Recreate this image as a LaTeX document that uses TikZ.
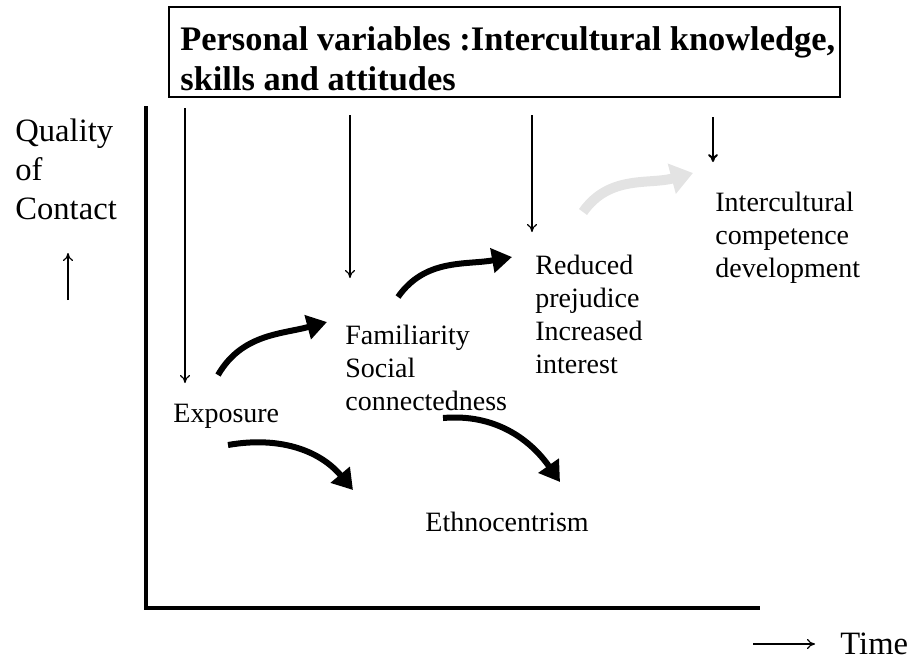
\documentclass[tikz,border=0pt]{standalone}
\usepackage{fontspec}
\setmainfont{Liberation Serif}
\usetikzlibrary{arrows.meta}

\begin{document}
\begin{tikzpicture}[x=0.5pt, y=0.5pt,
  stage/.style={anchor=north west, inner sep=0pt, align=left, font=\fontsize{14}{16.5}\selectfont},
  axislabel/.style={anchor=north west, inner sep=0pt, align=left, font=\fontsize{16.3}{19.7}\selectfont},
  influence/.style={line width=0.6pt, -{To[length=4pt,width=5pt]}},
  flow/.style={line width=3pt, -{Triangle[length=10pt,width=12pt]}},
  axis/.style={line width=2pt}]
  \useasboundingbox (0,0) rectangle (920,-666);

  % title box
  \draw[line width=0.8pt] (169,-7) rectangle (840,-97);
  \node[anchor=north west, inner sep=0pt, align=left, font=\bfseries\fontsize{17.2}{20}\selectfont] (personal) at (180,-26) {Personal variables :Intercultural knowledge,\\skills and attitudes};

  % axes
  \coordinate (ytop) at (146,-106);
  \coordinate (origin) at (146,-608);
  \coordinate (xend) at (760,-608);
  \draw[axis] (ytop) -- (origin) -- (xend);

  \node[axislabel] (quality) at (15,-118) {Quality\\of\\Contact};
  \coordinate (up0) at (68,-300);
  \coordinate (up1) at (68,-253);
  \draw[influence] (up0) -- (up1);

  \node[axislabel] (time) at (840,-632) {Time};
  \coordinate (t0) at (753,-644);
  \coordinate (t1) at (815,-644);
  \draw[influence] (t0) -- (t1);

  % stages
  \node[stage] (exposure) at (173,-404) {Exposure};
  \node[stage] (familiarity) at (345,-325) {Familiarity\\Social\\connectedness};
  \node[stage] (reduced) at (535,-255) {Reduced\\prejudice\\Increased\\interest};
  \node[stage] (competence) at (715,-192) {Intercultural\\competence\\development};
  \node[stage] (ethno) at (425,-512) {Ethnocentrism};

  % influence of personal variables
  \coordinate (p1) at (185,-108);
  \coordinate (p2) at (350,-115);
  \coordinate (p3) at (532,-115);
  \coordinate (p4) at (713,-117);
  \coordinate (q1) at (185,-383);
  \coordinate (q2) at (350,-278);
  \coordinate (q3) at (532,-232);
  \coordinate (q4) at (713,-162);
  \draw[influence] (p1) -- (q1);
  \draw[influence] (p2) -- (q2);
  \draw[influence] (p3) -- (q3);
  \draw[influence, line width=1pt] (p4) -- (q4);

  % development over time
  \coordinate (a1) at (218,-375);
  \coordinate (b1) at (327,-322);
  \coordinate (a2) at (228,-445);
  \coordinate (b2) at (353,-490);
  \coordinate (a3) at (398,-297);
  \coordinate (b3) at (512,-257);
  \coordinate (a4) at (443,-418);
  \coordinate (b4) at (560,-482);
  \coordinate (a5) at (583,-212);
  \coordinate (b5) at (693,-173);
  \draw[flow] (a1) to[out=60, in=195] (b1);
  \draw[flow] (a2) to[out=10, in=130] (b2);
  \draw[flow] (a3) to[out=55, in=190] (b3);
  \draw[flow] (a4) to[out=5, in=125] (b4);
  \draw[flow, gray!22, line width=5pt, -{Triangle[length=11pt,width=15pt]}] (a5) to[out=55, in=195] (b5);
\end{tikzpicture}
\end{document}
